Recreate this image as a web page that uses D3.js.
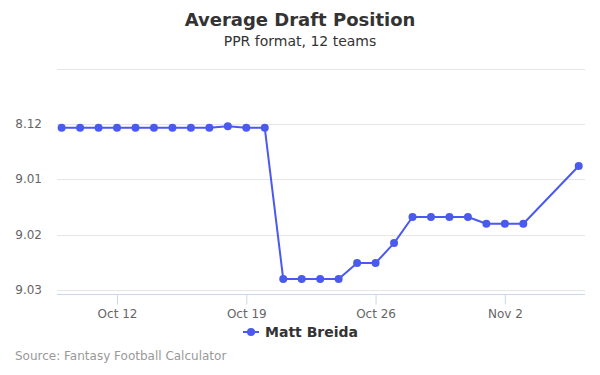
<!DOCTYPE html>
<html>
<head>
<meta charset="utf-8">
<script src="https://cdn.jsdelivr.net/npm/d3@7"></script>
<style>
  body { margin: 0; background: #fff; }
  svg { font-family: "DejaVu Sans", sans-serif; display: block; }
</style>
</head>
<body>
<div id="chart"></div>
<script>
// overall pick number (round * 12 + pick), axis is reversed so early picks sit on top
const dates = [
  "2018-10-09", "2018-10-10", "2018-10-11", "2018-10-12", "2018-10-13",
  "2018-10-14", "2018-10-15", "2018-10-16", "2018-10-17", "2018-10-18",
  "2018-10-19", "2018-10-20", "2018-10-21", "2018-10-22", "2018-10-23",
  "2018-10-24", "2018-10-25", "2018-10-26", "2018-10-27", "2018-10-28",
  "2018-10-29", "2018-10-30", "2018-10-31", "2018-11-01", "2018-11-02",
  "2018-11-03", "2018-11-06"
];
const adp = [
  96.07, 96.07, 96.07, 96.07, 96.07, 96.07, 96.07, 96.07, 96.07, 96.04,
  96.07, 96.07, 98.80, 98.80, 98.80, 98.80, 98.51, 98.51, 98.15, 97.68,
  97.68, 97.68, 97.68, 97.80, 97.80, 97.80, 96.76
];
const yTicks = [95, 96, 97, 98, 99];
const yTickLabels = ["", "8.12", "9.01", "9.02", "9.03"];
const xTicks = ["2018-10-12", "2018-10-19", "2018-10-26", "2018-11-02"];

const width = 600, height = 375;
const parse = d3.utcParse("%Y-%m-%d");
const day = 864e5;

let data = dates.map((d, i) => ({ date: parse(d), value: adp[i] }));

let svg = d3.select("#chart")
  .append("svg")
  .attr("width", width)
  .attr("height", height);

let x = d3.scaleUtc()
  .domain([new Date(+parse(dates[0]) - 0.25 * day), new Date(+parse("2018-11-06") + 0.34 * day)])
  .range([57, 585]);

let y = d3.scaleLinear()
  .domain([95, 99])
  .range([68.5, 290.2]);

const plotBottom = 294;

// title
svg.append("text")
  .attr("x", width / 2).attr("y", 26)
  .attr("text-anchor", "middle")
  .attr("font-size", 18).attr("font-weight", "bold")
  .attr("fill", "#333")
  .text("Average Draft Position");

svg.append("text")
  .attr("x", width / 2).attr("y", 45.5)
  .attr("text-anchor", "middle")
  .attr("font-size", 14)
  .attr("fill", "#333")
  .text("PPR format, 12 teams");

// grid + y labels
let grid = svg.append("g");
grid.selectAll("line")
  .data(yTicks)
  .enter().append("line")
  .attr("x1", 57).attr("x2", 585)
  .attr("y1", d => Math.round(y(d)) + 0.5)
  .attr("y2", d => Math.round(y(d)) + 0.5)
  .attr("stroke", "#e6e6e6");

grid.selectAll("text")
  .data(yTicks)
  .enter().append("text")
  .attr("x", 42)
  .attr("y", d => y(d) + 4)
  .attr("text-anchor", "end")
  .attr("font-size", 12)
  .attr("fill", "#666")
  .text((d, i) => yTickLabels[i]);

// x axis
let xAxis = d3.axisBottom(x)
  .tickValues(xTicks.map(parse))
  .tickFormat(d3.utcFormat("%b %-d"))
  .tickSize(10)
  .tickPadding(5);

let gx = svg.append("g")
  .attr("transform", `translate(0, ${plotBottom + 0.5})`)
  .call(xAxis);
gx.select(".domain").attr("stroke", "#ccd6eb").attr("d", "M57,0H585");
gx.selectAll(".tick line").attr("stroke", "#ccd6eb");
gx.selectAll(".tick text")
  .attr("font-size", 12)
  .attr("font-family", "DejaVu Sans, sans-serif")
  .attr("fill", "#666");

// series
const color = "#4a5aef";
let line = d3.line()
  .x(d => x(d.date))
  .y(d => y(d.value));

svg.append("path")
  .datum(data)
  .attr("d", line)
  .attr("fill", "none")
  .attr("stroke", color)
  .attr("stroke-width", 2)
  .attr("stroke-linejoin", "round");

svg.append("g")
  .selectAll("circle")
  .data(data)
  .enter().append("circle")
  .attr("cx", d => x(d.date))
  .attr("cy", d => y(d.value))
  .attr("r", 4)
  .attr("fill", color);

// legend
let legend = svg.append("g").attr("transform", "translate(243, 332)");
legend.append("line")
  .attr("x1", 0).attr("x2", 16)
  .attr("stroke", color).attr("stroke-width", 2);
legend.append("circle")
  .attr("cx", 8).attr("r", 4).attr("fill", color);
legend.append("text")
  .attr("x", 22).attr("y", 5)
  .attr("font-size", 14).attr("font-weight", "bold")
  .attr("fill", "#333")
  .text("Matt Breida");

// credits
svg.append("text")
  .attr("x", 15).attr("y", 360)
  .attr("font-size", 12)
  .attr("fill", "#999")
  .text("Source: Fantasy Football Calculator");
</script>
</body>
</html>
